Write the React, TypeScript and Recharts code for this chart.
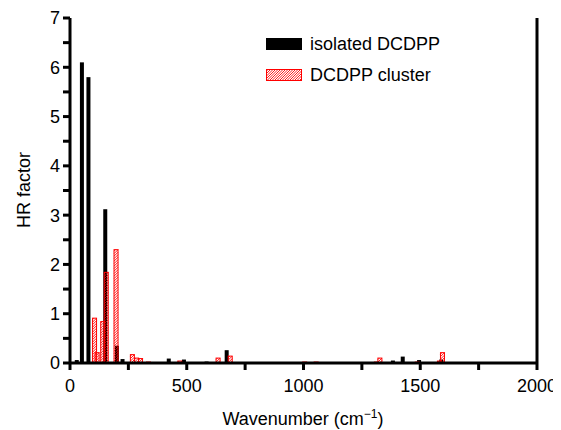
import React from 'react';
import { ComposedChart, Bar, XAxis, YAxis, ReferenceLine } from 'recharts';

// isolated molecule modes
const isoWavenumber = [29, 51, 79, 151, 201, 225, 423, 488, 585, 671, 1242, 1383, 1425, 1495, 1590];
const isoHR = [0.06, 6.1, 5.8, 3.12, 0.35, 0.08, 0.09, 0.07, 0.03, 0.26, 0.02, 0.05, 0.13, 0.06, 0.07];

// cluster modes
const clusterWavenumber = [103, 114, 138, 153, 195, 265, 283, 300, 334, 468, 632, 684, 1003, 1052, 1310, 1325, 1485, 1580, 1593];
const clusterHR = [0.92, 0.22, 0.85, 1.85, 2.31, 0.18, 0.11, 0.1, 0.03, 0.05, 0.11, 0.15, 0.03, 0.03, 0.03, 0.11, 0.03, 0.05, 0.22];

const xTicks = [0, 250, 500, 750, 1000, 1250, 1500, 1750, 2000];
const yTicks = [0, 0.5, 1, 1.5, 2, 2.5, 3, 3.5, 4, 4.5, 5, 5.5, 6, 6.5, 7];

const data = [
  ...isoWavenumber.map((w, i) => ({ w, iso: isoHR[i], cluster: 0 })),
  ...clusterWavenumber.map((w, i) => ({ w, iso: 0, cluster: clusterHR[i] })),
];

const FONT = '"Liberation Sans", Arial, sans-serif';
const BAR_W = 4;
const tickStyle = { fontSize: 18, fill: '#000', fontFamily: FONT };

// diagonal red hatch inside a box, drawn as plain segments
const hatch = (x0: number, y0: number, w: number, h: number, key: string) => {
  const segs = [];
  for (let t = 1.5; t < h + w; t += 2.5) {
    const sx = Math.max(0, t - h);
    const ex = Math.min(w, t);
    if (ex <= sx) continue;
    segs.push(
      <line
        key={`${key}-${t}`}
        x1={x0 + sx}
        y1={y0 + t - sx}
        x2={x0 + ex}
        y2={y0 + t - ex}
        stroke="#ff0000"
        strokeWidth={0.9}
      />
    );
  }
  return segs;
};

const IsoBar = (props: any) => {
  const { x, y, width, height } = props;
  if (!height || height <= 0) return <g />;
  const cx = x + width / 2;
  return <rect x={cx - BAR_W / 2} y={y} width={BAR_W} height={height} fill="#000" />;
};

const ClusterBar = (props: any) => {
  const { x, y, width, height } = props;
  if (!height || height <= 0) return <g />;
  const cx = x + width / 2;
  const x0 = cx - BAR_W / 2 + 0.5;
  const h = Math.max(height - 0.5, 0.5);
  return (
    <g>
      {hatch(x0, y + 0.5, BAR_W, h, 'b')}
      <rect x={x0} y={y + 0.5} width={BAR_W} height={h} fill="none" stroke="#ff0000" strokeWidth={1} />
    </g>
  );
};

const App = () => {
  return (
    <div style={{ position: 'relative', width: 553, height: 422 }}>
      <ComposedChart width={553} height={422} data={data} margin={{ top: 10, right: 24, bottom: 0, left: 0 }}>
        <XAxis
          dataKey="w"
          type="number"
          domain={[0, 2000]}
          ticks={xTicks}
          interval={0}
          height={67}
          tickSize={7}
          tickMargin={9}
          stroke="#000"
          strokeWidth={3}
          tick={tickStyle}
          tickFormatter={(v: number) => (v % 500 === 0 ? String(v) : '')}
        />
        <YAxis
          domain={[0, 7]}
          ticks={yTicks}
          interval={0}
          width={62}
          tickSize={7}
          tickMargin={3}
          stroke="#000"
          strokeWidth={3}
          tick={tickStyle}
          tickFormatter={(v: number) => (Number.isInteger(v) ? String(v) : '')}
        />
        <ReferenceLine x={2000} stroke="#000" strokeWidth={3} ifOverflow="visible" />
        <Bar dataKey="iso" stackId="s" shape={<IsoBar />} isAnimationActive={false} />
        <Bar dataKey="cluster" stackId="s" shape={<ClusterBar />} isAnimationActive={false} />
      </ComposedChart>
      <svg width={561} height={430} style={{ position: 'absolute', left: -8, top: -8, pointerEvents: 'none' }}>
        <rect x={266} y={38} width={36} height={12} fill="#000" />
        <text x={310} y={44} dy="0.36em" fontSize={18} fontFamily={FONT} fill="#000">
          isolated DCDPP
        </text>
        {hatch(266.5, 69.5, 35, 11, 'l')}
        <rect x={266.5} y={69.5} width={35} height={11} fill="none" stroke="#ff0000" strokeWidth={1} />
        <text x={310} y={75} dy="0.36em" fontSize={18} fontFamily={FONT} fill="#000">
          DCDPP cluster
        </text>
        <text x={303} y={425} textAnchor="middle" fontSize={18} fontFamily={FONT} fill="#000">
          Wavenumber (cm
          <tspan dy={-7} fontSize={12}>−1</tspan>
          <tspan dy={7}>)</tspan>
        </text>
        <text
          x={24}
          y={190}
          dy="0.35em"
          textAnchor="middle"
          fontSize={18}
          fontFamily={FONT}
          fill="#000"
          transform="rotate(-90 24 190)"
        >
          HR factor
        </text>
      </svg>
    </div>
  );
};

export default App;
